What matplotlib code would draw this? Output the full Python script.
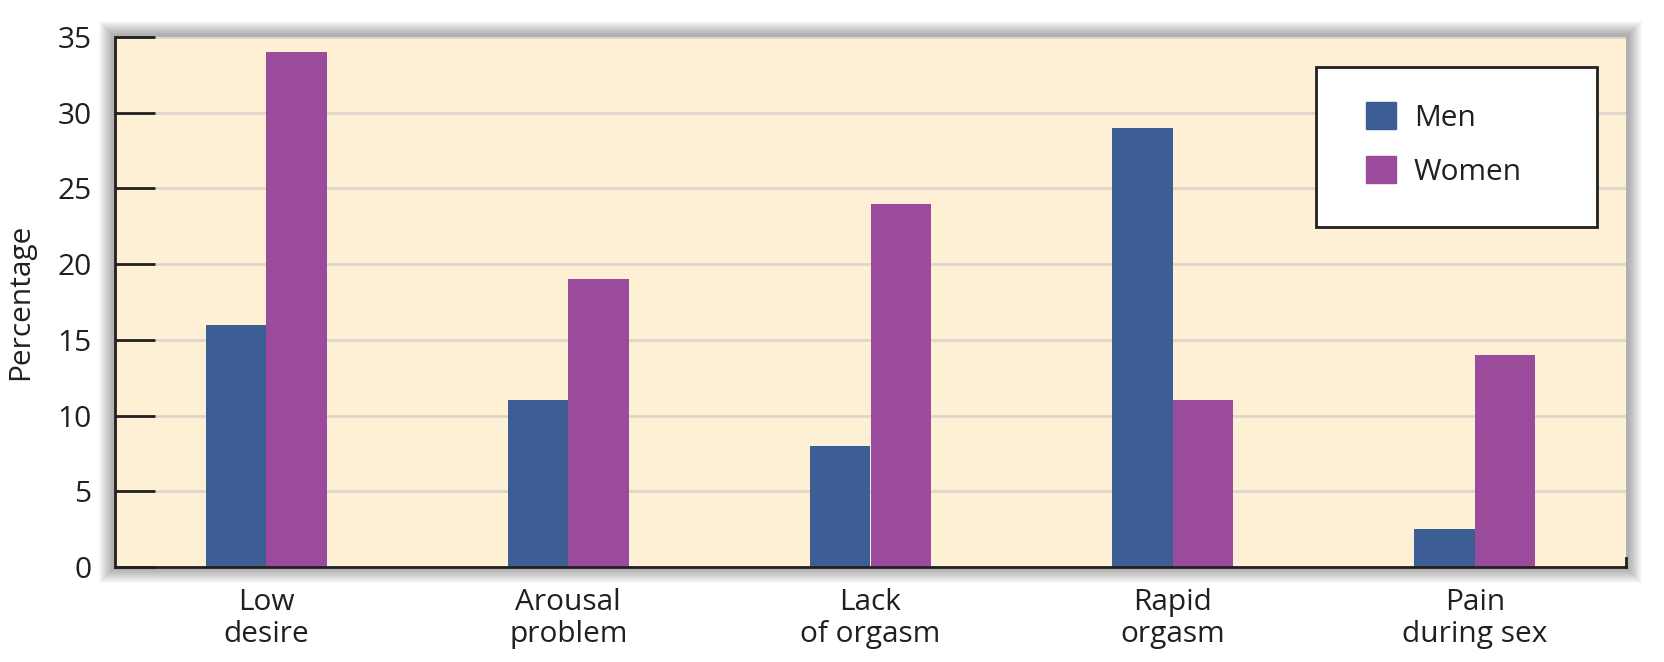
import matplotlib.pyplot as plt
from matplotlib.patches import Rectangle, Patch
import numpy as np

categories = ['Low\ndesire', 'Arousal\nproblem', 'Lack\nof orgasm', 'Rapid\norgasm', 'Pain\nduring sex']
men = [16, 11, 8, 29, 2.5]
women = [34, 19, 24, 11, 14]
yticks = [0, 5, 10, 15, 20, 25, 30, 35]

men_color = '#3D5E95'
women_color = '#9A4B9B'
bg_color = '#FEF0D4'
dark = '#231F20'

plt.rcParams['font.family'] = ['Open Sans', 'DejaVu Sans']

fig = plt.figure(figsize=(16.64, 6.62), dpi=100)
W, H = 1664, 662
left, right, top, bottom = 115, 1626, 37, 567
ax = fig.add_axes([left / W, 1 - bottom / H, (right - left) / W, (bottom - top) / H])
ax.set_zorder(2)

# soft shadow round the plot area
for i in range(14, 0, -1):
    fig.patches.append(Rectangle(((left - i - 2) / W, 1 - (bottom + i + 2) / H),
                                 (right - left + 2 * i + 4) / W, (bottom - top + 2 * i + 4) / H,
                                 transform=fig.transFigure, facecolor='black', edgecolor='none',
                                 alpha=0.025, zorder=-1))

ax.set_facecolor(bg_color)
x = np.arange(len(categories))
w = 0.2
ax.bar(x - w / 2, men, w, color=men_color, zorder=3)
ax.bar(x + w / 2, women, w, color=women_color, zorder=3)

ax.set_xlim(-0.5, 4.5)
ax.set_ylim(0, 35)
ax.set_yticks(yticks)
ax.set_xticks(x)
ax.set_xticklabels(categories, fontsize=21.5, color=dark, linespacing=1.15)
ax.tick_params(axis='x', length=0, pad=15)
ax.tick_params(axis='y', direction='in', length=29, width=2, color=dark,
               labelsize=21.5, labelcolor=dark, pad=17)
ax.yaxis.grid(True, color='#DCD6CA', linewidth=2, zorder=1)
ax.set_axisbelow(True)

ax.spines['top'].set_visible(False)
ax.spines['right'].set_bounds(0, 0.6)
for s in ['left', 'bottom', 'right']:
    ax.spines[s].set_color(dark)
    ax.spines[s].set_linewidth(2)
    ax.spines[s].set_zorder(4)

ax.set_ylabel('Percentage', fontsize=21.5, color=dark, labelpad=16)

# legend box
ax.add_patch(Rectangle((0.795, 0.6415), 0.186, 0.3015, transform=ax.transAxes,
                       facecolor='white', edgecolor=dark, linewidth=2, zorder=5))
handles = [Patch(color=men_color), Patch(color=women_color)]
leg = ax.legend(handles, ['Men', 'Women'], loc='upper left', bbox_to_anchor=(0.82, 0.9),
                frameon=False, fontsize=21.5, handlelength=1.0, handleheight=1.0,
                labelspacing=0.8, handletextpad=0.6, borderaxespad=0)
leg.set_zorder(6)
for t in leg.get_texts():
    t.set_color(dark)

fig.savefig('out.png', dpi=100)
